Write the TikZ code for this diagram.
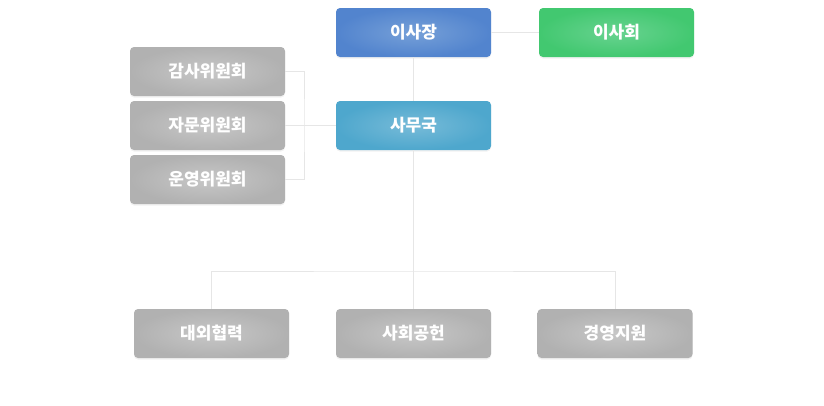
\documentclass[tikz,border=0pt]{standalone}
\usepackage{fontspec}
\newfontfamily\kr{Noto Sans CJK KR}
\usetikzlibrary{shadows}
\definecolor{blueO}{HTML}{5284CE}
\definecolor{blueI}{HTML}{76A0D8}
\definecolor{greenO}{HTML}{42C870}
\definecolor{greenI}{HTML}{68D390}
\definecolor{cyanO}{HTML}{4EA7CD}
\definecolor{cyanI}{HTML}{77BBD8}
\definecolor{grayO}{HTML}{B1B1B1}
\definecolor{grayI}{HTML}{C7C7C7}
\definecolor{lineC}{HTML}{E6E6E6}
\tikzset{
  box/.style={rounded corners=4pt, minimum width=155pt, minimum height=49pt, inner sep=0pt,
    font=\kr\bfseries\fontsize{17}{17}\selectfont, text=white,
    drop shadow={opacity=0.1, shadow xshift=0pt, shadow yshift=-1.5pt}},
  bluebox/.style={box, inner color=blueI, outer color=blueO},
  greenbox/.style={box, inner color=greenI, outer color=greenO},
  cyanbox/.style={box, inner color=cyanI, outer color=cyanO},
  graybox/.style={box, inner color=grayI, outer color=grayO},
  conn/.style={draw=lineC, line width=1pt},
}
\begin{document}
\begin{tikzpicture}[x=1pt,y=-1pt]
\fill[white] (0,0) rectangle (824,405);
\useasboundingbox (0,0) rectangle (824,405);
\node[bluebox] (chair) at (413.5,32.5) {이사장};
\node[greenbox] (board) at (616.5,32.5) {이사회};
\node[cyanbox] (office) at (413.5,125.5) {사무국};
\node[graybox] (audit) at (207.5,71.5) {감사위원회};
\node[graybox] (advise) at (207.5,125.5) {자문위원회};
\node[graybox] (oper) at (207.5,179.5) {운영위원회};
\node[graybox] (ext) at (211.5,333.5) {대외협력};
\node[graybox] (soc) at (413.5,333.5) {사회공헌};
\node[graybox] (mgmt) at (615,333.5) {경영지원};
\coordinate (busY) at (413.5,271);
\coordinate (brk) at (304,125.5);
\draw[conn] (chair.east) -- (board.west);
\draw[conn] (chair.south) -- (office.north);
\draw[conn] (office.south) -- (soc.north);
\draw[conn] (ext.north) |- (busY) -| (mgmt.north);
\draw[conn] (audit.east) -| (brk) |- (oper.east);
\draw[conn] (advise.east) -- (office.west);
\end{tikzpicture}
\end{document}
